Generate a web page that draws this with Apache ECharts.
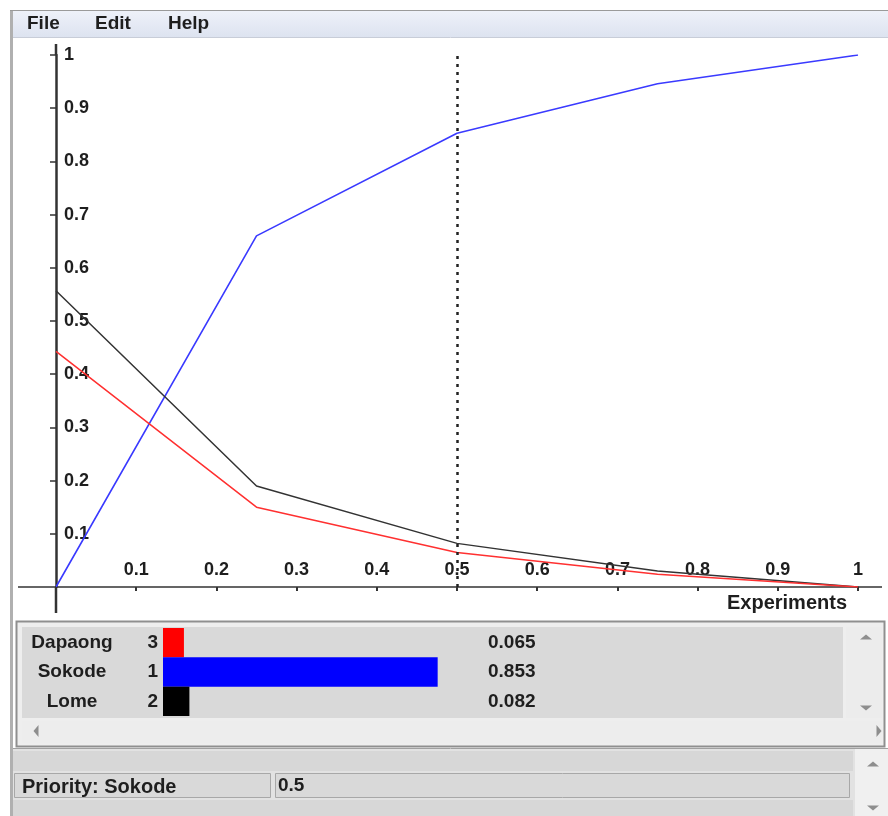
<!DOCTYPE html>
<html><head><meta charset="utf-8">
<script src="https://cdn.jsdelivr.net/npm/echarts@6/dist/echarts.min.js"></script>
<style>html,body{margin:0;padding:0;background:#fff}#c{width:888px;height:816px}</style>
</head><body><div id="c"></div>
<script>
// ---- data ----
const weights = [0, 0.25, 0.5, 0.75, 1];
const sokodeLine = [0, 0.66, 0.853, 0.946, 1];
const lomeLine = [0.557, 0.19, 0.082, 0.03, 0];
const dapaongLine = [0.443, 0.15, 0.065, 0.024, 0];
const currentWeight = 0.5;
const altNames = ['Dapaong', 'Sokode', 'Lome'];
const altRanks = ['3', '1', '2'];
const altValues = [0.065, 0.853, 0.082];
const menuItems = ['File', 'Edit', 'Help'];
const xAxisTitle = 'Experiments';
const priorityLabel = 'Priority: Sokode';

// ---- styles ----
const altColors = ['#ff0000', '#0000ff', '#000000'];
const FONT = '"Liberation Sans", Arial, sans-serif';
const TXT = '#1e1e1e';

const chart = echarts.init(document.getElementById('c'), null, {renderer: 'canvas'});
const pair = arr => weights.map((w, i) => [w, arr[i]]);

function tri(cx, cy, dir) {
  const s = 6, h = 2.5;
  let pts;
  if (dir === 'up') pts = [[cx - s, cy + h], [cx + s, cy + h], [cx, cy - h]];
  else if (dir === 'down') pts = [[cx - s, cy - h], [cx + s, cy - h], [cx, cy + h]];
  else if (dir === 'left') pts = [[cx + h, cy - s], [cx + h, cy + s], [cx - h, cy]];
  else pts = [[cx - h, cy - s], [cx - h, cy + s], [cx + h, cy]];
  return {type: 'polygon', shape: {points: pts}, style: {fill: '#8e8e8e'}, z: 5};
}

const menuX = [27, 95, 168];
const bg = [
  {type: 'rect', shape: {x: 10, y: 10, width: 3, height: 806}, style: {fill: '#b0b0b0'}, z: 0},
  {type: 'line', shape: {x1: 10, y1: 10.5, x2: 888, y2: 10.5}, style: {stroke: '#9a9a9a', lineWidth: 1}, z: 0},
  {type: 'rect', shape: {x: 13, y: 11, width: 875, height: 26},
    style: {fill: new echarts.graphic.LinearGradient(0, 0, 0, 1, [{offset: 0, color: '#eef1f9'}, {offset: 1, color: '#dde3f0'}])}, z: 0},
  {type: 'line', shape: {x1: 13, y1: 37.5, x2: 888, y2: 37.5}, style: {stroke: '#c8cdd8', lineWidth: 1}, z: 0},
  // bar panel
  {type: 'rect', shape: {x: 16.5, y: 621.5, width: 868, height: 125}, style: {fill: '#eeeeee', stroke: '#8f8f8f', lineWidth: 2}, z: 0},
  {type: 'rect', shape: {x: 22, y: 627, width: 821, height: 91}, style: {fill: '#d9d9d9'}, z: 0},
  {type: 'rect', shape: {x: 846, y: 627, width: 36, height: 91}, style: {fill: '#ececec'}, z: 0},
  {type: 'rect', shape: {x: 22, y: 721, width: 860, height: 22}, style: {fill: '#ededed'}, z: 0},
  tri(866, 637, 'up'), tri(866, 708, 'down'), tri(36, 731, 'left'), tri(879, 731, 'right'),
  // lower panel
  {type: 'rect', shape: {x: 13, y: 749, width: 875, height: 67}, style: {fill: '#e2e2e2'}, z: 0},
  {type: 'line', shape: {x1: 13, y1: 748.5, x2: 888, y2: 748.5}, style: {stroke: '#a0a0a0', lineWidth: 1}, z: 0},
  {type: 'rect', shape: {x: 13, y: 751, width: 840, height: 20}, style: {fill: '#d7d7d7'}, z: 0},
  {type: 'rect', shape: {x: 14.5, y: 773.5, width: 256, height: 24}, style: {fill: '#d9d9d9', stroke: '#a8a8a8', lineWidth: 1}, z: 0},
  {type: 'rect', shape: {x: 275.5, y: 773.5, width: 574, height: 24}, style: {fill: '#d9d9d9', stroke: '#a8a8a8', lineWidth: 1}, z: 0},
  {type: 'rect', shape: {x: 13, y: 800, width: 840, height: 16}, style: {fill: '#d7d7d7'}, z: 0},
  {type: 'rect', shape: {x: 855, y: 749, width: 33, height: 67}, style: {fill: '#f0f0f0'}, z: 0},
  tri(873, 764, 'up'), tri(873, 808, 'down'),
  // texts
  {type: 'text', x: 22, y: 787, style: {text: priorityLabel, font: 'bold 20px ' + FONT, fill: TXT, verticalAlign: 'middle'}, z: 10},
  {type: 'text', x: 278, y: 786, style: {text: String(currentWeight), font: 'bold 19px ' + FONT, fill: TXT, verticalAlign: 'middle'}, z: 10},
  {type: 'text', x: 847, y: 603, style: {text: xAxisTitle, font: 'bold 20px ' + FONT, fill: TXT, align: 'right', verticalAlign: 'middle'}, z: 10}
];
menuItems.forEach((m, i) => bg.push({type: 'text', x: menuX[i], y: 24, style: {text: m, font: 'bold 19px ' + FONT, fill: TXT, verticalAlign: 'middle'}, z: 10}));

const option = {
  animation: false,
  backgroundColor: '#ffffff',
  textStyle: {fontFamily: FONT},
  grid: [
    {left: 56, top: 55, width: 802, height: 532, outerBoundsMode: 'none', containLabel: false},
    {left: 163, top: 628, width: 322, height: 88, outerBoundsMode: 'none', containLabel: false}
  ],
  xAxis: [
    {type: 'value', gridIndex: 0, min: 0, max: 1, interval: 0.1,
      axisLine: {show: true, onZero: true, lineStyle: {color: '#333', width: 1.5}},
      axisTick: {show: true, inside: false, length: 4, lineStyle: {color: '#333', width: 2}},
      axisLabel: {inside: true, margin: 8, showMinLabel: false, fontSize: 18, fontWeight: 'bold', color: TXT, fontFamily: FONT},
      splitLine: {show: false}},
    {type: 'value', gridIndex: 1, min: 0, max: 1, show: false}
  ],
  yAxis: [
    {type: 'value', gridIndex: 0, min: 0, max: 1, interval: 0.1,
      axisLine: {show: true, lineStyle: {color: '#333', width: 2.5}},
      axisTick: {show: true, inside: false, length: 6, lineStyle: {color: '#333', width: 1.5}},
      axisLabel: {inside: true, margin: 8, showMinLabel: false, fontSize: 18, fontWeight: 'bold', color: TXT, fontFamily: FONT},
      splitLine: {show: false}},
    {type: 'category', gridIndex: 1, data: altNames, inverse: true,
      axisLine: {show: false}, axisTick: {show: false},
      axisLabel: {margin: 5, formatter: (v, i) => '{n|' + v + '}{r|' + altRanks[i] + '}',
        rich: {
          n: {width: 140, align: 'center', fontSize: 19, fontWeight: 'bold', color: TXT, fontFamily: FONT},
          r: {width: 16, align: 'right', fontSize: 19, fontWeight: 'bold', color: TXT, fontFamily: FONT}
        }}}
  ],
  series: [
    {name: 'Sokode', type: 'line', xAxisIndex: 0, yAxisIndex: 0, data: pair(sokodeLine), symbol: 'none',
      lineStyle: {color: '#3a3aff', width: 1.6}, z: 3,
      markLine: {silent: true, symbol: 'none', label: {show: false},
        lineStyle: {type: [3, 5], color: '#222', width: 2.5},
        data: [{xAxis: currentWeight}]}},
    {name: 'Lome', type: 'line', xAxisIndex: 0, yAxisIndex: 0, data: pair(lomeLine), symbol: 'none',
      lineStyle: {color: '#333333', width: 1.5}, z: 3},
    {name: 'Dapaong', type: 'line', xAxisIndex: 0, yAxisIndex: 0, data: pair(dapaongLine), symbol: 'none',
      lineStyle: {color: '#ff3030', width: 1.5}, z: 3},
    {name: 'Priorities', type: 'bar', xAxisIndex: 1, yAxisIndex: 1, barWidth: '100%', z: 3,
      data: altValues.map((v, i) => ({value: v, itemStyle: {color: altColors[i]}})),
      label: {show: true, position: [325, '50%'], align: 'left', verticalAlign: 'middle',
        formatter: p => p.value.toFixed(3), fontSize: 19, fontWeight: 'bold', color: TXT, fontFamily: FONT}}
  ],
  graphic: bg
};
chart.setOption(option);

// axis-line extensions beyond the plotted range, positioned from the axis scales
const o = chart.convertToPixel({gridIndex: 0}, [0, 0]);
const e = chart.convertToPixel({gridIndex: 0}, [1, 1]);
bg.push(
  {type: 'line', shape: {x1: 18, y1: o[1], x2: o[0], y2: o[1]}, style: {stroke: '#333', lineWidth: 1.5}, z: 4},
  {type: 'line', shape: {x1: e[0], y1: o[1], x2: 882, y2: o[1]}, style: {stroke: '#333', lineWidth: 1.5}, z: 4},
  {type: 'line', shape: {x1: o[0], y1: o[1], x2: o[0], y2: 613}, style: {stroke: '#333', lineWidth: 2.5}, z: 4},
  {type: 'line', shape: {x1: o[0], y1: 44, x2: o[0], y2: e[1]}, style: {stroke: '#333', lineWidth: 2.5}, z: 4}
);
chart.setOption({graphic: bg});
</script></body></html>
